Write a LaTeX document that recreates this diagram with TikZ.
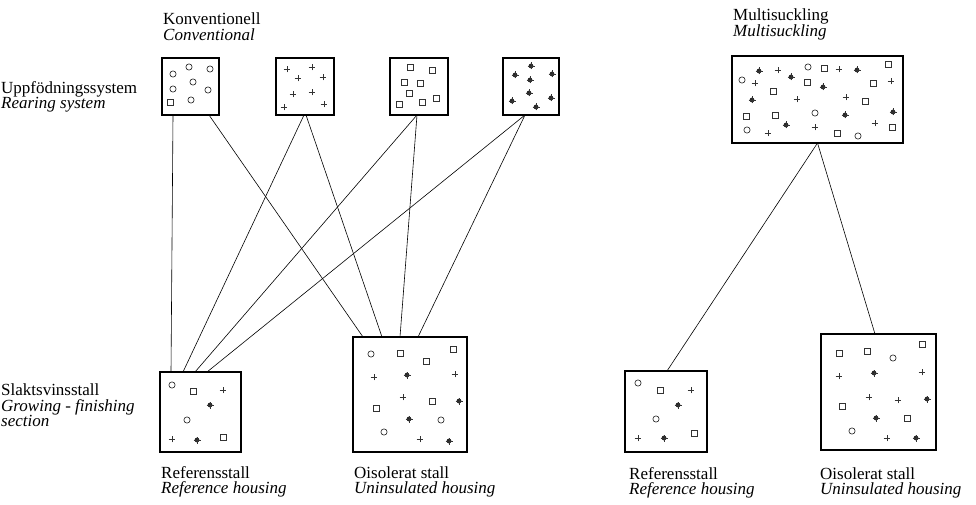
\documentclass[tikz,border=0pt]{standalone}
\usepackage{fontspec}
\setmainfont{Liberation Serif}
\usepackage{tikz}
\newcommand{\markcirc}[1]{\foreach \p in {#1} \draw[sym] \p circle (3.1pt);}
\newcommand{\marksq}[1]{\foreach \p in {#1} \draw[sym] \p +(-3pt,-3pt) rectangle +(3pt,3pt);}
\newcommand{\markplus}[1]{\foreach \p in {#1} \draw[sym] \p +(-3.3pt,0) -- +(3.3pt,0) \p +(0,-3.3pt) -- +(0,3.3pt);}
\newcommand{\markstar}[1]{\foreach \p in {#1} {\fill[black!85] \p circle (2.4pt); \draw[sym] \p +(-3.5pt,0) -- +(3.5pt,0) \p +(0,-3.5pt) -- +(0,3.5pt);}}

\begin{document}
\begin{tikzpicture}[x=1pt,y=-1pt,
  pen/.style={draw, line width=1.2pt, inner sep=0pt, outer sep=0pt},
  link/.style={line width=0.6pt},
  sym/.style={black!80, line width=0.7pt},
  lbl/.style={align=left, inner sep=0pt, anchor=north west, font=\fontsize{17}{15.5}\selectfont}]
\useasboundingbox (0,0) rectangle (976,505);
% rearing systems
\node[pen, minimum width=57pt, minimum height=57pt] (conv1) at (190.5,86.5) {};
\node[pen, minimum width=58pt, minimum height=57pt] (conv2) at (305,86.5) {};
\node[pen, minimum width=58pt, minimum height=57pt] (conv3) at (419,86.5) {};
\node[pen, minimum width=56pt, minimum height=57pt] (conv4) at (531,86.5) {};
\node[pen, minimum width=171pt, minimum height=87pt] (multi) at (817.5,99.5) {};
% finishing sections
\node[pen, minimum width=81pt, minimum height=80pt] (refL) at (200.5,412) {};
\node[pen, minimum width=114pt, minimum height=115pt] (oisL) at (410,394.5) {};
\node[pen, minimum width=82pt, minimum height=81pt] (refR) at (666,411.5) {};
\node[pen, minimum width=115pt, minimum height=116pt] (oisR) at (878.5,392) {};
\draw[link] ([xshift=-17.5pt]conv1.south) -- ([xshift=-29.5pt]refL.north);
\draw[link] ([xshift=18.5pt]conv1.south) -- ([xshift=-47pt]oisL.north);
\draw[link] ([xshift=-1pt]conv2.south) -- ([xshift=-17.5pt]refL.north);
\draw[link] ([xshift=1pt]conv2.south) -- ([xshift=-28pt]oisL.north);
\draw[link] ([xshift=-2pt]conv3.south) -- ([xshift=-5.5pt]refL.north);
\draw[link] ([xshift=-2pt]conv3.south) -- ([xshift=-10pt]oisL.north);
\draw[link] ([xshift=-6pt]conv4.south) -- ([xshift=6.5pt]refL.north);
\draw[link] ([xshift=-6pt]conv4.south) -- ([xshift=8pt]oisL.north);
\draw[link] (multi.south) -- ([xshift=1pt]refR.north);
\draw[link] (multi.south) -- ([xshift=-3.5pt]oisR.north);
% pigs in the boxes
\markcirc{(173,74),(189,67),(210,69),(193,82),(173,89),(208,90),(191,100)}
\marksq{(170,102)}
\markplus{(287,69),(312,67),(298,78),(323,77),(293,94),(312,92),(284,107),(324,104)}
\marksq{(410,67),(432,70),(404,82),(420,83),(409,93),(436,98),(399,104),(422,102)}
\markstar{(531,66),(515,75),(530,80),(552,74),(529,93),(512,101),(551,98),(536,107)}
\markcirc{(808,67),(742,80),(815,113),(747,130),(858,136)}
\marksq{(824,68),(888,64),(807,82),(873,83),(773,91),(865,101),(746,116),(775,115),(837,133),(892,127)}
\markplus{(778,70),(839,69),(755,83),(891,81),(797,99),(846,97),(768,133),(815,127),(875,123)}
\markstar{(759,71),(857,70),(791,77),(823,87),(752,100),(845,115),(893,112),(786,125)}
\markcirc{(172,385),(187,420)}
\marksq{(193,391),(223,437)}
\markplus{(223,390),(172,439)}
\markstar{(210,405),(197,440)}
\markcirc{(371,354),(441,420),(384,432)}
\marksq{(400,353),(426,361),(453,349),(432,401),(376,408)}
\markplus{(374,377),(455,374),(403,397),(420,439)}
\markstar{(407,375),(459,401),(409,419),(449,441)}
\markcirc{(638,383),(656,419)}
\marksq{(660,390),(694,433)}
\markplus{(691,390),(638,438)}
\markstar{(678,405),(664,438)}
\markcirc{(893,358),(852,431)}
\marksq{(839,353),(867,351),(922,344),(842,406),(907,418)}
\markplus{(839,376),(922,372),(869,397),(898,400),(887,438)}
\markstar{(874,373),(927,399),(876,418),(916,438)}
% labels
\node[lbl] (tconv) at (163,13) {Konventionell\\\textit{Conventional}};
\node[lbl] (tmulti) at (733,9) {Multisuckling\\\textit{Multisuckling}};
\node[lbl] (trear) at (1,81) {Uppfödningssystem\\\textit{Rearing system}};
\node[lbl] (tfin) at (1,384) {Slaktsvinsstall\\\textit{Growing - finishing}\\\textit{section}};
\node[lbl] (trefL) at (161,466) {Referensstall\\\textit{Reference housing}};
\node[lbl] (toisL) at (354,466) {Oisolerat stall\\\textit{Uninsulated housing}};
\node[lbl] (trefR) at (629,467) {Referensstall\\\textit{Reference housing}};
\node[lbl] (toisR) at (820,467) {Oisolerat stall\\\textit{Uninsulated housing}};
\end{tikzpicture}
\end{document}
